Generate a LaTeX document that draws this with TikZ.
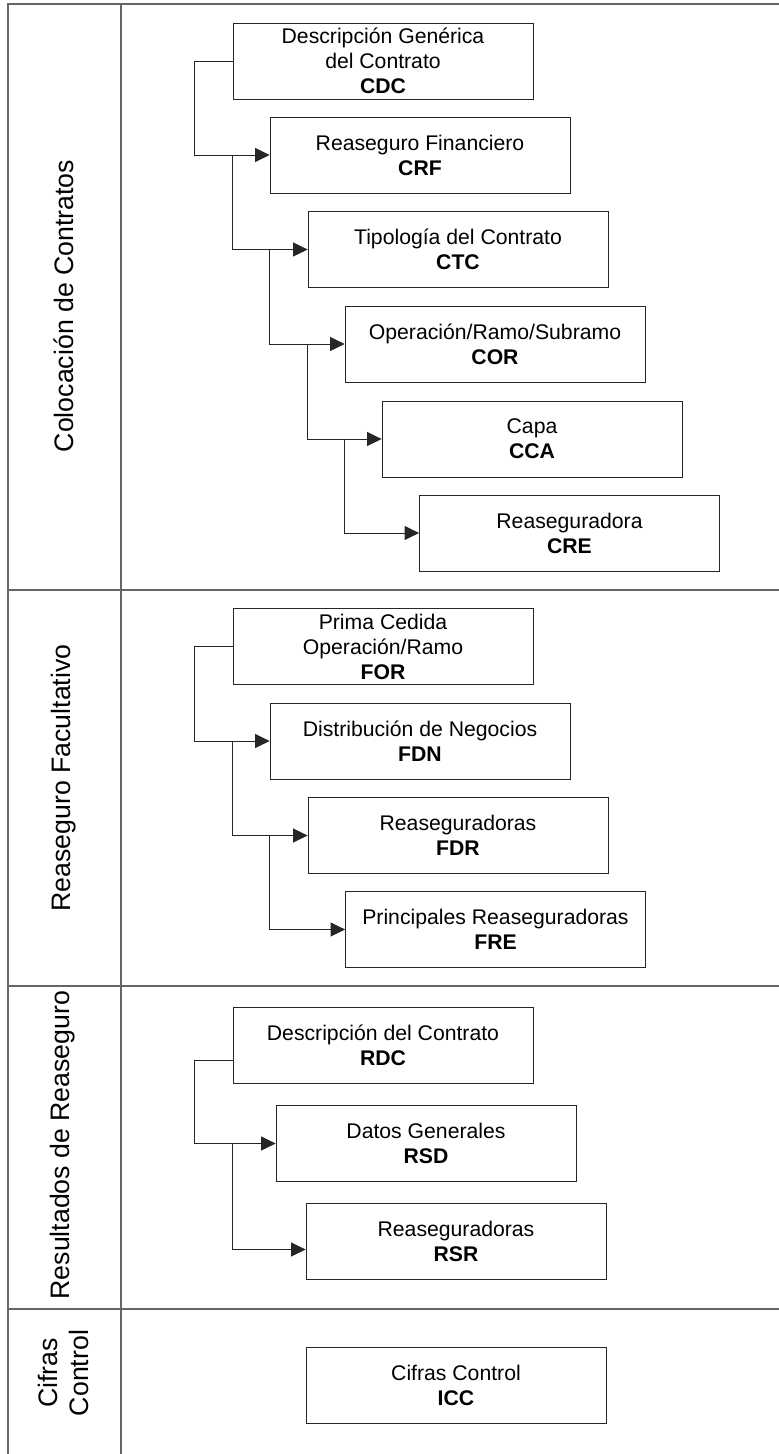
\documentclass[tikz,border=0pt]{standalone}
\usepackage{fontspec}
\setmainfont{Liberation Sans}
\usetikzlibrary{arrows.meta}

\begin{document}
\begin{tikzpicture}[x=1pt, y=-1pt,
        caja/.style={draw=black!85, line width=0.8pt, minimum width=300pt, minimum height=76pt,
            inner sep=0pt, align=center, font=\fontsize{21.2}{25}\selectfont},
        carril/.style={rotate=90, align=center, font=\fontsize{26.7}{31}\selectfont},
        flecha/.style={draw=black!85, line width=0.8pt, -{Triangle[length=14.5pt,width=14pt]}},
        marco/.style={draw=black!60, line width=1.2pt}]
        \useasboundingbox (0,0) rectangle (779,1454);
        \draw[marco] (8,1454) -- (8,4) -- (779,4);
        \draw[marco] (121,4) -- (121,1454);
        \foreach \y in {590,986,1309}
            \draw[marco] (8,\y) -- (779,\y);

        \node[carril] (colocacion) at (64,306) {Colocación de Contratos};
        \node[carril] (facultativo) at (64,778) {Reaseguro Facultativo};
        \node[carril] (resultados) at (63,1145) {Resultados de Reaseguro};
        \node[carril] (cifras) at (63,1373) {Cifras\\Control};

        \node[caja] (cdc) at (383,61) {Descripción Genérica\\del Contrato\\\textbf{CDC}};
        \node[caja] (crf) at (420,155) {Reaseguro Financiero\\\textbf{CRF}};
        \node[caja] (ctc) at (458,249.5) {Tipología del Contrato\\\textbf{CTC}};
        \node[caja] (cor) at (495,344) {Operación/Ramo/Subramo\\\textbf{COR}};
        \node[caja] (cca) at (532,439) {Capa\\\textbf{CCA}};
        \node[caja] (cre) at (569.5,533) {Reaseguradora\\\textbf{CRE}};

        \node[caja] (for) at (383,646.5) {Prima Cedida\\Operación/Ramo\\\textbf{FOR}};
        \node[caja] (fdn) at (420,741) {Distribución de Negocios\\\textbf{FDN}};
        \node[caja] (fdr) at (458,835.5) {Reaseguradoras\\\textbf{FDR}};
        \node[caja] (fre) at (495.5,929.5) {Principales Reaseguradoras\\\textbf{FRE}};

        \node[caja] (rdc) at (383,1045) {Descripción del Contrato\\\textbf{RDC}};
        \node[caja] (rsd) at (426,1143.5) {Datos Generales\\\textbf{RSD}};
        \node[caja] (rsr) at (456,1241.5) {Reaseguradoras\\\textbf{RSR}};

        \node[caja] (icc) at (456,1385) {Cifras Control\\\textbf{ICC}};

        \draw[flecha] (cdc.west) -- ++(-38,0) |- (crf.west);
        \draw[flecha] (cdc.west |- crf.west) |- (ctc.west);
        \draw[flecha] (crf.west |- ctc.west) |- (cor.west);
        \draw[flecha] (ctc.west |- cor.west) |- (cca.west);
        \draw[flecha] (cor.west |- cca.west) |- (cre.west);

        \draw[flecha] (for.west) -- ++(-38,0) |- (fdn.west);
        \draw[flecha] (for.west |- fdn.west) |- (fdr.west);
        \draw[flecha] (fdn.west |- fdr.west) |- (fre.west);

        \draw[flecha] ([yshift=-15pt]rdc.west) -- ++(-38,0) |- (rsd.west);
        \draw[flecha] (rdc.west |- rsd.west) |- ([yshift=-8pt]rsr.west);
\end{tikzpicture}
\end{document}
